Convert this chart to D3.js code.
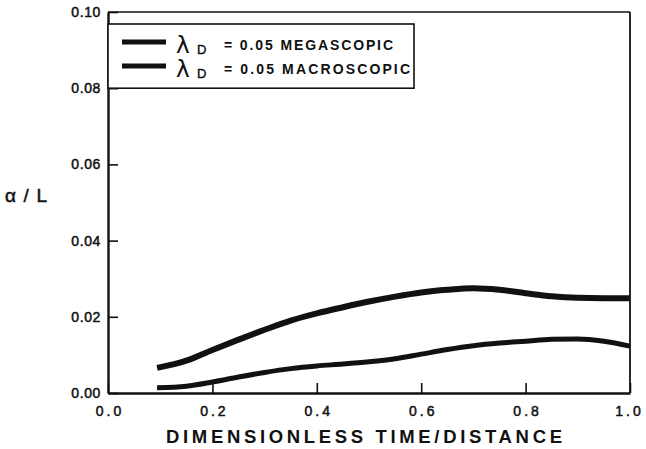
<!DOCTYPE html>
<html>
<head>
<meta charset="utf-8">
<script src="https://cdn.jsdelivr.net/npm/d3@7/dist/d3.min.js"></script>
<style>
html,body{margin:0;padding:0;background:#fff;}
svg{display:block;}
</style>
</head>
<body>
<svg id="chart" width="646" height="449"></svg>
<script>
// ---- data ----
const xValues = [0.094, 0.15, 0.2, 0.25, 0.3, 0.35, 0.4, 0.45, 0.5, 0.55, 0.6, 0.65, 0.7, 0.75, 0.8, 0.85, 0.9, 0.95, 1.0];
const megascopic = [0.0066, 0.0085, 0.0113, 0.0140, 0.0166, 0.0190, 0.0209, 0.0225, 0.0240, 0.0253, 0.0264, 0.0271, 0.0275, 0.0271, 0.0262, 0.0254, 0.0250, 0.0249, 0.0249];
const macroscopic = [0.0014, 0.0018, 0.0029, 0.0042, 0.0054, 0.0064, 0.0071, 0.0076, 0.0082, 0.0090, 0.0102, 0.0114, 0.0124, 0.0131, 0.0136, 0.0141, 0.0142, 0.0136, 0.0123];
const seriesNames = ["= 0.05 MEGASCOPIC", "= 0.05 MACROSCOPIC"];
const xTicks = [0.0, 0.2, 0.4, 0.6, 0.8, 1.0];
const yTicks = [0.00, 0.02, 0.04, 0.06, 0.08, 0.10];
const xTitle = "DIMENSIONLESS TIME/DISTANCE";
const yTitle = "α/L";

const svg = d3.select("#chart");
const x = d3.scaleLinear().domain([0, 1]).range([108, 630]);
const y = d3.scaleLinear().domain([0, 0.1]).range([393, 12]);

const tickFont = "'Liberation Sans', Arial, sans-serif";
const titleFont = "'Liberation Sans', Arial, sans-serif";

// frame top/right
svg.append("line").attr("x1", x(0)).attr("x2", x(1)).attr("y1", y(0.1)).attr("y2", y(0.1))
  .attr("stroke", "#111").attr("stroke-width", 1.6);
svg.append("line").attr("x1", x(1)).attr("x2", x(1)).attr("y1", y(0.1)).attr("y2", y(0))
  .attr("stroke", "#111").attr("stroke-width", 1.8);

// axes
const xAxis = d3.axisBottom(x).tickValues(xTicks).tickSizeInner(-10).tickSizeOuter(0).tickPadding(13)
  .tickFormat(d3.format(".1f"));
const gx = svg.append("g").attr("transform", `translate(0,${y(0)})`).call(xAxis);
gx.select(".domain").attr("stroke", "#111").attr("stroke-width", 2.4);
gx.selectAll(".tick line").attr("stroke", "#111").attr("stroke-width", 1.6);
gx.selectAll(".tick text").style("font-size", "14px").style("letter-spacing", "3px").attr("fill", "#111")
  .attr("stroke", "#111").attr("stroke-width", 0.5)
  .style("font-family", tickFont).attr("dx", (d, i) => i === xTicks.length - 1 ? -1 : 1.5);

const yAxis = d3.axisLeft(y).tickValues(yTicks).tickSizeInner(-10).tickSizeOuter(0).tickPadding(7)
  .tickFormat(d3.format(".2f"));
const gy = svg.append("g").attr("transform", `translate(${x(0)},0)`).call(yAxis);
gy.select(".domain").attr("stroke", "#111").attr("stroke-width", 2.4);
gy.selectAll(".tick line").attr("stroke", "#111").attr("stroke-width", 1.6);
gy.selectAll(".tick text").style("font-size", "14px").style("letter-spacing", "0.6px").attr("fill", "#111")
  .attr("stroke", "#111").attr("stroke-width", 0.5)
  .style("font-family", tickFont);

// titles
svg.append("text").attr("x", 166).attr("y", 443).style("font-size", "18.5px").style("font-weight", "bold")
  .style("font-family", titleFont).attr("fill", "#111")
  .attr("textLength", 396).attr("lengthAdjust", "spacing").text(xTitle);
svg.append("text").attr("x", 5).attr("y", 202).style("font-size", "19px")
  .style("font-family", tickFont).attr("fill", "#111").attr("stroke", "#111").attr("stroke-width", 0.5)
  .attr("textLength", 42).attr("lengthAdjust", "spacing").text(yTitle);

// curves
const line = d3.line().x(d => x(d[0])).y(d => y(d[1])).curve(d3.curveMonotoneX);
const series = [megascopic, macroscopic];
const widths = [6, 5];
series.forEach((vals, i) => {
  svg.append("path").datum(xValues.map((xv, j) => [xv, vals[j]]))
    .attr("d", line).attr("fill", "none").attr("stroke", "#111")
    .attr("stroke-width", widths[i]).attr("stroke-linejoin", "round");
});

// legend
const lg = svg.append("g");
lg.append("rect").attr("x", x(0)).attr("y", 24).attr("width", 414 - x(0)).attr("height", y(0.08) - 24)
  .attr("fill", "#fff").attr("stroke", "#111").attr("stroke-width", 1.6);
const legendWidths = [169, 186];
seriesNames.forEach((name, i) => {
  const cy = 42 + i * 24;
  lg.append("line").attr("x1", 122).attr("x2", 166).attr("y1", cy).attr("y2", cy)
    .attr("stroke", "#111").attr("stroke-width", 5);
  lg.append("text").attr("x", 176).attr("y", cy + 11).style("font-size", "23px")
    .style("font-family", "'DejaVu Sans', sans-serif").attr("fill", "#111").text("λ");
  lg.append("text").attr("x", 197).attr("y", cy + 12).style("font-size", "13px")
    .style("font-family", tickFont).attr("fill", "#111").attr("stroke", "#111").attr("stroke-width", 0.4).text("D");
  lg.append("text").attr("x", 224).attr("y", cy + 7.5).style("font-size", "14px").style("font-weight", "bold")
    .style("font-family", titleFont).attr("fill", "#111")
    .attr("textLength", legendWidths[i]).attr("lengthAdjust", "spacing").text(name);
});
</script>
</body>
</html>
